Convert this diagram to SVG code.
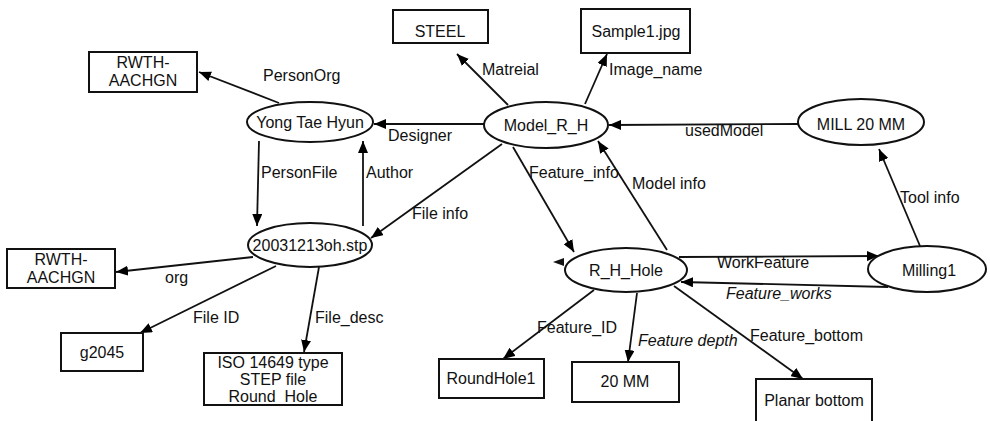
<svg xmlns="http://www.w3.org/2000/svg" width="990" height="421" viewBox="0 0 990 421">
<defs>
<marker id="ah" viewBox="0 0 12 10" refX="12" refY="5" markerWidth="12" markerHeight="10" markerUnits="userSpaceOnUse" orient="auto">
<path d="M0,0 L12,5 L0,10 z" fill="#000"/>
</marker>
</defs>
<style>
text{font-family:"Liberation Sans",Arial,sans-serif;font-size:16px;fill:#111}
.c{text-anchor:middle}
.i{font-style:italic}
.n ellipse,.n rect{fill:#fff;stroke:#111;stroke-width:2}
#edges path{fill:none;stroke:#111;stroke-width:1.8;marker-end:url(#ah)}
</style>
<rect width="990" height="421" fill="#fff"/>
<g id="edges">
<path d="M279,103 L199,72"/>
<path d="M485,124 L374,124"/>
<path d="M259,141 L257,226"/>
<path d="M363,226 L363,141"/>
<path d="M502,144 L371,238"/>
<path d="M508,105 L457,54"/>
<path d="M585,104 L607,54"/>
<path d="M798,124 L609,125"/>
<path d="M920,246 L879,149"/>
<path d="M667,250 L598,141"/>
<path d="M513,147 L574,252"/>
<path d="M679,257 L879,256"/>
<path d="M888,287 L681,282"/>
<path d="M674,286 L803,379"/>
<path d="M594,290 L503,359"/>
<path d="M637,293 L628,362"/>
<path d="M253,257 L116,272"/>
<path d="M276,266 L140,333"/>
<path d="M319,267 L304,352"/>
<polygon points="553,262 564,258 564,266" fill="#111"/>
<text x="263" y="81">PersonOrg</text>
<text x="388" y="141">Designer</text>
<text x="261" y="178">PersonFile</text>
<text x="366" y="178">Author</text>
<text x="412" y="219">File info</text>
<text x="482" y="75">Matreial</text>
<text x="609" y="75">Image_name</text>
<text x="685" y="136">usedModel</text>
<text x="900" y="203">Tool info</text>
<text x="632" y="189">Model info</text>
<text x="529" y="178">Feature_info</text>
<text x="717" y="268">WorkFeature</text>
<text x="726" y="299" class="i">Feature_works</text>
<text x="750" y="341">Feature_bottom</text>
<text x="537" y="333">Feature_ID</text>
<text x="638" y="346" class="i">Feature depth</text>
<text x="165" y="283">org</text>
<text x="193" y="323">File ID</text>
<text x="315" y="323">File_desc</text>
</g>
<g id="rwth1" class="n"><rect x="89" y="52" width="108" height="40"/><text x="143" y="68" class="c">RWTH-</text><text x="143" y="86" class="c">AACHGN</text></g>
<g id="yong" class="n"><ellipse cx="310" cy="122" rx="63" ry="20"/><text x="310" y="128" class="c">Yong Tae Hyun</text></g>
<g id="steel" class="n"><rect x="393" y="10" width="95" height="33"/><text x="440" y="37" class="c">STEEL</text></g>
<g id="sample" class="n"><rect x="581" y="9" width="109" height="44"/><text x="636" y="37" class="c">Sample1.jpg</text></g>
<g id="model" class="n"><ellipse cx="546" cy="125" rx="62" ry="23"/><text x="546" y="131" class="c">Model_R_H</text></g>
<g id="mill" class="n"><ellipse cx="861" cy="122" rx="63" ry="23"/><text x="861" y="130" class="c">MILL 20 MM</text></g>
<g id="stp" class="n"><ellipse cx="310" cy="245" rx="62" ry="22"/><text x="310" y="251" class="c">20031213oh.stp</text></g>
<g id="rwth2" class="n"><rect x="7" y="249" width="108" height="39"/><text x="61" y="265" class="c">RWTH-</text><text x="61" y="283" class="c">AACHGN</text></g>
<g id="g2045" class="n"><rect x="61" y="333" width="82" height="38"/><text x="102" y="358" class="c">g2045</text></g>
<g id="iso" class="n"><rect x="204" y="353" width="138" height="52"/><text x="273" y="368" class="c">ISO 14649 type</text><text x="273" y="385" class="c">STEP file</text><text x="273" y="402" class="c">Round_Hole</text></g>
<g id="rhhole" class="n"><ellipse cx="626" cy="270" rx="61" ry="22"/><text x="626" y="276" class="c">R_H_Hole</text></g>
<g id="milling" class="n"><ellipse cx="927" cy="269" rx="59" ry="23"/><text x="929" y="276" class="c">Milling1</text></g>
<g id="roundhole" class="n"><rect x="439" y="359" width="105" height="39"/><text x="491" y="384" class="c">RoundHole1</text></g>
<g id="mm20" class="n"><rect x="572" y="362" width="107" height="40"/><text x="625" y="387" class="c">20 MM</text></g>
<g id="planar" class="n"><rect x="756" y="379" width="116" height="50"/><text x="814" y="406" class="c">Planar bottom</text></g>
</svg>
